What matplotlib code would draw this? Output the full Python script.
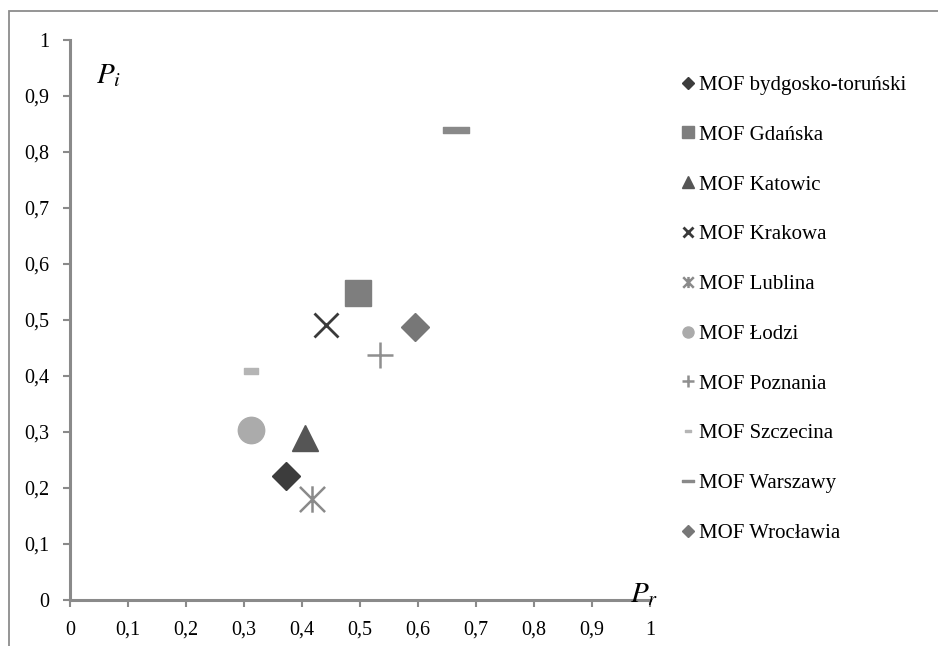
import matplotlib
matplotlib.use("Agg")
import matplotlib.pyplot as plt
from matplotlib.path import Path
from matplotlib.patches import Rectangle

names = ["MOF bydgosko-toruński", "MOF Gdańska", "MOF Katowic", "MOF Krakowa",
         "MOF Lublina", "MOF Łodzi", "MOF Poznania", "MOF Szczecina",
         "MOF Warszawy", "MOF Wrocławia"]
pr_values = [0.372, 0.496, 0.405, 0.441, 0.417, 0.312, 0.535, 0.312, 0.666, 0.595]
pi_values = [0.221, 0.548, 0.289, 0.491, 0.180, 0.304, 0.437, 0.409, 0.839, 0.487]
tick_values = [0, 0.1, 0.2, 0.3, 0.4, 0.5, 0.6, 0.7, 0.8, 0.9, 1]
tick_labels = ["0", "0,1", "0,2", "0,3", "0,4", "0,5", "0,6", "0,7", "0,8", "0,9", "1"]

colors = ["#3c3c3c", "#7e7e7e", "#555555", "#3a3a3a", "#8a8a8a",
          "#ababab", "#8f8f8f", "#b5b5b5", "#898989", "#777777"]

# custom markers
star = Path([(-1, -1), (1, 1), (-1, 1), (1, -1), (0, -1.05), (0, 1.05)],
            [Path.MOVETO, Path.LINETO, Path.MOVETO, Path.LINETO, Path.MOVETO, Path.LINETO])
small_dash = Path([(-1, -0.4), (1, -0.4), (1, 0.4), (-1, 0.4), (-1, -0.4)],
                  [Path.MOVETO, Path.LINETO, Path.LINETO, Path.LINETO, Path.CLOSEPOLY])
wide_dash = Path([(-1, -0.22), (1, -0.22), (1, 0.22), (-1, 0.22), (-1, -0.22)],
                 [Path.MOVETO, Path.LINETO, Path.LINETO, Path.LINETO, Path.CLOSEPOLY])

markers = ["D", "s", "^", "x", star, "o", "+", small_dash, wide_dash, "D"]
sizes = [14, 19, 19, 17, 19, 19, 19, 10, 19, 14]
mews = [1, 1, 1, 2, 1.8, 1, 1.8, 1, 1, 1]

plt.rcParams["font.family"] = ["Liberation Serif", "DejaVu Serif"]
plt.rcParams["mathtext.fontset"] = "stix"

fig = plt.figure(figsize=(9.38, 6.46), dpi=100)
fig.patches.append(Rectangle((9 / 938, -0.05), 1.2, 1 - 11 / 646 + 0.05,
                             transform=fig.transFigure, fill=False,
                             edgecolor="#8c8c8c", linewidth=1.3))
ax = fig.add_axes([70 / 938, 1 - 600 / 646, 580 / 938, 560 / 646])

handles = []
for i in range(len(names)):
    h, = ax.plot([pr_values[i]], [pi_values[i]], linestyle="none",
                 marker=markers[i], markersize=sizes[i], color=colors[i],
                 markerfacecolor=colors[i], markeredgecolor=colors[i],
                 markeredgewidth=mews[i], label=names[i],
                 clip_on=False, zorder=3)
    handles.append(h)

ax.set_xlim(0, 1)
ax.set_ylim(0, 1)
ax.set_xticks(tick_values)
ax.set_xticklabels(tick_labels)
ax.set_yticks(tick_values)
ax.set_yticklabels(tick_labels)
for s in ["top", "right"]:
    ax.spines[s].set_visible(False)
for s in ["left", "bottom"]:
    ax.spines[s].set_color("#8a8a8a")
    ax.spines[s].set_linewidth(2.2)
ax.tick_params(axis="both", colors="#8a8a8a", labelcolor="black",
               labelsize=14.5, length=5, width=1.5, direction="out")
ax.tick_params(axis="x", pad=10)
ax.tick_params(axis="y", pad=10)

ax.text(0.045, 0.937, r"$\mathit{P}_{\mathit{i}}$", transform=ax.transAxes,
        fontsize=21, ha="left", va="center")
ax.text(0.965, 0.01, r"$\mathit{P}_{\mathit{r}}$", transform=ax.transAxes,
        fontsize=21, ha="left", va="center")

leg = ax.legend(handles=handles, loc="upper left",
                bbox_to_anchor=(673 / 938, 1 - 67 / 646), bbox_transform=fig.transFigure,
                frameon=False, fontsize=15, markerscale=0.42, handlelength=0.6,
                handletextpad=0.25, labelspacing=1.45, borderaxespad=0)

fig.savefig("out.png", dpi=100)
